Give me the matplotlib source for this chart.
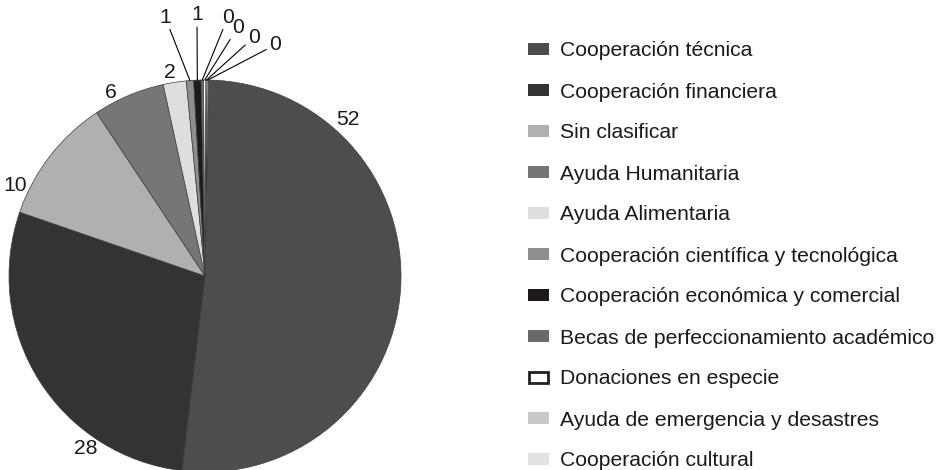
import matplotlib
matplotlib.use("Agg")
import matplotlib.pyplot as plt
from matplotlib.patches import Rectangle
import numpy as np

plt.rcParams['font.family'] = ['Liberation Sans', 'DejaVu Sans']

categorias = ["Cooperación técnica", "Cooperación financiera", "Sin clasificar",
              "Ayuda Humanitaria", "Ayuda Alimentaria",
              "Cooperación científica y tecnológica",
              "Cooperación económica y comercial",
              "Becas de perfeccionamiento académico",
              "Donaciones en especie", "Ayuda de emergencia y desastres",
              "Cooperación cultural"]
porcentajes = [51.6, 28.4, 10.4, 5.9, 1.9, 0.6, 0.6, 0.2, 0.2, 0.1, 0.1]
colores = ['#4d4d4d', '#333333', '#b0b0b0', '#767676', '#dedede', '#8e8e8e',
           '#1e1a1b', '#6a6a6a', '#ffffff', '#c8c8c8', '#e2e2e2']

# posiciones de las etiquetas (en radios del pastel)
pos_etiq = [(0.730, 0.796), (-0.607, -0.878), (-0.969, 0.464), (-0.480, 0.934),
            (-0.179, 1.036), (-0.204, 1.321), (-0.041, 1.332), (0.117, 1.321),
            (0.168, 1.270), (0.250, 1.219), (0.357, 1.179)]

W, H = 949, 470
fig = plt.figure(figsize=(W / 100, H / 100), dpi=100)
ax = fig.add_axes([0, 0, 1, 1])

cx, cy, r = 205, 276, 196   # centro y radio en pixeles
wedges, _ = ax.pie(porcentajes, colors=colores, startangle=89, counterclock=False,
                   radius=1, center=(0, 0),
                   wedgeprops=dict(edgecolor='#3c3c3c', linewidth=0.5))
ax.set_xlim(-cx / r, (W - cx) / r)
ax.set_ylim(-(H - cy) / r, cy / r)
ax.set_axis_off()

tc = '#1a1a1a'
fs = 15.2
for i, (w, v) in enumerate(zip(wedges, porcentajes)):
    tx, ty = pos_etiq[i]
    txt = '%d' % round(v)
    if i < 5:
        ax.text(tx, ty, txt, ha='center', va='center', fontsize=fs, color=tc)
    else:
        ang = np.deg2rad((w.theta1 + w.theta2) / 2)
        ax.annotate(txt, xy=(np.cos(ang), np.sin(ang)), xytext=(tx, ty),
                    ha='center', va='center', fontsize=fs, color=tc,
                    arrowprops=dict(arrowstyle='-', lw=0.8, color='black',
                                    shrinkA=0, shrinkB=0))

# leyenda
for i, (lab, c) in enumerate(zip(categorias, colores)):
    yc = 49 + 41 * i
    if c == '#ffffff':
        rect = Rectangle((529 / W, 1 - (yc + 5.5) / H), 19 / W, 11 / H,
                         facecolor='white', edgecolor='#231f20', linewidth=2,
                         transform=fig.transFigure)
    else:
        rect = Rectangle((528 / W, 1 - (yc + 6) / H), 21 / W, 12 / H,
                         facecolor=c, edgecolor='none', transform=fig.transFigure)
    fig.patches.append(rect)
    fig.text(560 / W, 1 - yc / H, lab, ha='left', va='center_baseline',
             fontsize=fs, color=tc)

fig.savefig('out.png', dpi=100)
